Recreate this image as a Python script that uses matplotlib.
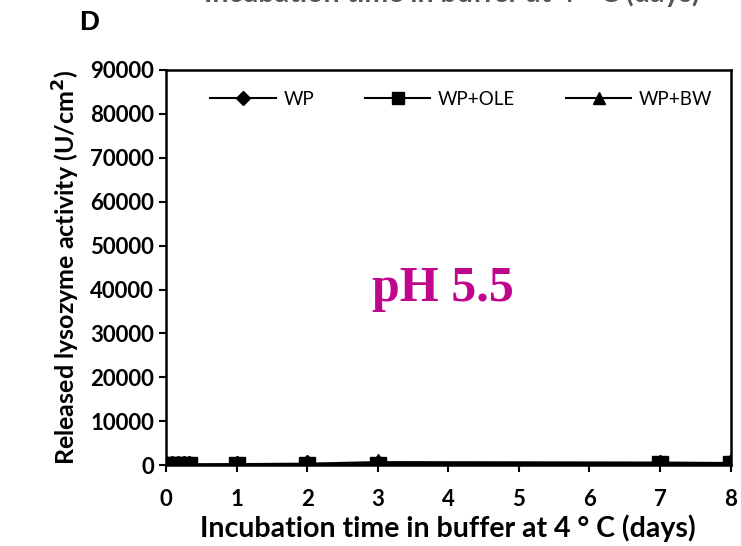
import matplotlib
matplotlib.use("Agg")
import matplotlib.pyplot as plt

# incubation time (days) and released lysozyme activity (U/cm2)
days = [0, 0.083, 0.167, 0.25, 0.333, 1, 2, 3, 7, 8]
wp = [0, 50, 80, 100, 120, 150, 180, 250, 350, 400]
wp_ole = [0, 30, 50, 60, 80, 100, 120, 150, 250, 300]
wp_bw = [0, 80, 120, 150, 180, 250, 350, 700, 600, 500]

x_ticks = list(range(0, 9))
y_ticks = list(range(0, 90001, 10000))

plt.rcParams['font.family'] = ['Lato', 'DejaVu Sans']

fig = plt.figure(figsize=(7.41, 5.46), dpi=100)
ax = fig.add_axes([0.224, 0.148, 0.762, 0.724])

ax.plot(days, wp, color='black', lw=1.5, marker='D', ms=9, label='WP')
ax.plot(days, wp_ole, color='black', lw=1.5, marker='s', ms=11, label='WP+OLE')
ax.plot(days, wp_bw, color='black', lw=1.5, marker='^', ms=11, label='WP+BW')

ax.set_xlim(0, 8)
ax.set_ylim(0, 90000)
ax.set_xticks(x_ticks)
ax.set_yticks(y_ticks)
ax.tick_params(direction='out', length=5, width=1.5, labelsize=16)
ax.tick_params(axis='x', pad=12)
for lab in ax.get_xticklabels() + ax.get_yticklabels():
    lab.set_fontweight('bold')
for sp in ax.spines.values():
    sp.set_linewidth(1.8)

ax.set_xlabel('Incubation time in buffer at 4 ° C (days)', fontsize=20.5, fontweight='bold', labelpad=3)
ax.set_ylabel('Released lysozyme activity (U/cm$^\\mathbf{2}$)', fontsize=18, fontweight='bold', labelpad=6)

leg = ax.legend(ncol=3, frameon=False, loc='upper center', bbox_to_anchor=(0.523, 0.99),
                handlelength=3.5, columnspacing=2.7, handletextpad=0.4, fontsize=13.5,
                markerscale=0.8)

ax.text(0.49, 0.445, 'pH 5.5', transform=ax.transAxes, ha='center', va='center',
        fontsize=36, fontweight='bold', color='#C0068C', family='Liberation Serif')

fig.text(0.12, 0.958, 'D', fontsize=20, fontweight='bold', ha='center', va='center',
         family='Liberation Sans')
# clipped label of the panel above
fig.text(0.61, 1 - 2 / 546, 'Incubation time in buffer at 4 ° C (days)', fontsize=20.5,
         fontweight='bold', ha='center', va='baseline', color='#555555')

fig.savefig('out.png', dpi=100)
